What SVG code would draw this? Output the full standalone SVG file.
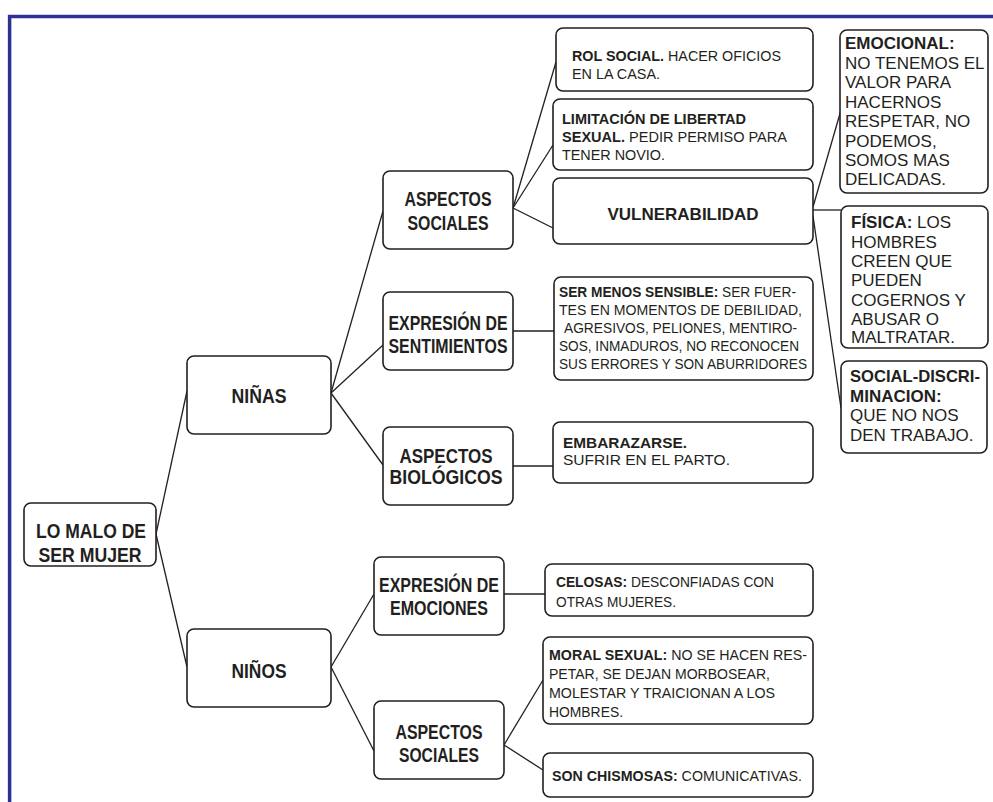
<svg xmlns="http://www.w3.org/2000/svg" width="993" height="802" viewBox="0 0 993 802">
<style>
text{font-family:"Liberation Sans",Arial,sans-serif;fill:#231f20}
.box{fill:#fff;stroke:#231f20;stroke-width:1.6}
.lab{font-size:21px;font-weight:bold;text-anchor:middle}
.mid{font-size:15px}
.sm{font-size:14px}
.rt{font-size:17px}
.b{font-weight:bold}
.con line{stroke:#231f20;stroke-width:1.3}
.frame{stroke:#2e3192;stroke-width:3.5;fill:none}
</style>
<rect width="993" height="802" fill="#fff"/>
<path class="frame" d="M9.6,802 V16.5 H993"/>
<g class="con">
<line x1="156" y1="534" x2="187" y2="391"/>
<line x1="156" y1="534" x2="187" y2="667"/>
<line x1="331" y1="393" x2="383" y2="211"/>
<line x1="331" y1="393" x2="383" y2="345"/>
<line x1="331" y1="393" x2="383" y2="465"/>
<line x1="513" y1="208" x2="556" y2="62"/>
<line x1="513" y1="208" x2="553" y2="145"/>
<line x1="513" y1="208" x2="553" y2="228"/>
<line x1="513" y1="331" x2="554" y2="331"/>
<line x1="513" y1="466" x2="553" y2="466"/>
<line x1="813" y1="207" x2="841" y2="110"/>
<line x1="813" y1="210" x2="841" y2="210"/>
<line x1="813" y1="216" x2="841" y2="408"/>
<line x1="331" y1="667" x2="374" y2="594"/>
<line x1="331" y1="667" x2="374" y2="751"/>
<line x1="504" y1="594" x2="545" y2="594"/>
<line x1="504" y1="745" x2="543" y2="680"/>
<line x1="504" y1="745" x2="543" y2="770"/>
</g>
<g id="root">
<rect class="box" x="24" y="503" width="132" height="63" rx="7"/>
<text class="lab" x="91" y="538" textLength="110" lengthAdjust="spacingAndGlyphs">LO MALO DE</text>
<text class="lab" x="90" y="562" textLength="103" lengthAdjust="spacingAndGlyphs">SER MUJER</text>
</g>
<g id="ninas">
<rect class="box" x="187" y="356" width="144" height="78" rx="7"/>
<text class="lab" x="259" y="403" textLength="55" lengthAdjust="spacingAndGlyphs">NIÑAS</text>
</g>
<g id="ninos">
<rect class="box" x="187" y="629" width="144" height="78" rx="7"/>
<text class="lab" x="259" y="678" textLength="55" lengthAdjust="spacingAndGlyphs">NIÑOS</text>
</g>
<g id="asp-soc-1">
<rect class="box" x="383" y="171" width="130" height="78" rx="7"/>
<text class="lab" x="448" y="206" textLength="87" lengthAdjust="spacingAndGlyphs">ASPECTOS</text>
<text class="lab" x="448" y="230" textLength="81" lengthAdjust="spacingAndGlyphs">SOCIALES</text>
</g>
<g id="exp-sent">
<rect class="box" x="383" y="292" width="130" height="78" rx="7"/>
<text class="lab" x="448" y="330" textLength="119" lengthAdjust="spacingAndGlyphs">EXPRESIÓN DE</text>
<text class="lab" x="448" y="353" textLength="119" lengthAdjust="spacingAndGlyphs">SENTIMIENTOS</text>
</g>
<g id="asp-bio">
<rect class="box" x="383" y="427" width="130" height="78" rx="7"/>
<text class="lab" x="446" y="463" textLength="93" lengthAdjust="spacingAndGlyphs">ASPECTOS</text>
<text class="lab" x="446" y="484" textLength="113" lengthAdjust="spacingAndGlyphs">BIOLÓGICOS</text>
</g>
<g id="exp-emo">
<rect class="box" x="374" y="557" width="130" height="78" rx="7"/>
<text class="lab" x="439" y="592" textLength="120" lengthAdjust="spacingAndGlyphs">EXPRESIÓN DE</text>
<text class="lab" x="439" y="615" textLength="98" lengthAdjust="spacingAndGlyphs">EMOCIONES</text>
</g>
<g id="asp-soc-2">
<rect class="box" x="374" y="701" width="130" height="78" rx="7"/>
<text class="lab" x="439" y="739" textLength="87" lengthAdjust="spacingAndGlyphs">ASPECTOS</text>
<text class="lab" x="439" y="762" textLength="80" lengthAdjust="spacingAndGlyphs">SOCIALES</text>
</g>
<g id="rol">
<rect class="box" x="556" y="28" width="257" height="63" rx="7"/>
<text class="mid" x="572" y="61" textLength="209" lengthAdjust="spacingAndGlyphs"><tspan class="b">ROL SOCIAL.</tspan> HACER OFICIOS</text>
<text class="mid" x="572" y="79" textLength="88" lengthAdjust="spacingAndGlyphs">EN LA CASA.</text>
</g>
<g id="limitacion">
<rect class="box" x="553" y="99" width="260" height="71" rx="7"/>
<text class="mid b" x="562" y="124" textLength="184" lengthAdjust="spacingAndGlyphs">LIMITACIÓN DE LIBERTAD</text>
<text class="mid" x="562" y="142" textLength="225" lengthAdjust="spacingAndGlyphs"><tspan class="b">SEXUAL.</tspan> PEDIR PERMISO PARA</text>
<text class="mid" x="562" y="160" textLength="103" lengthAdjust="spacingAndGlyphs">TENER NOVIO.</text>
</g>
<g id="vulnerabilidad">
<rect class="box" x="553" y="178" width="260" height="66" rx="7"/>
<text class="rt b" x="683" y="220" text-anchor="middle">VULNERABILIDAD</text>
</g>
<g id="ser-menos">
<rect class="box" x="554" y="277" width="259" height="103" rx="7"/>
<text class="sm" x="559" y="297" textLength="237" lengthAdjust="spacingAndGlyphs"><tspan class="b">SER MENOS SENSIBLE:</tspan> SER FUER-</text>
<text class="sm" x="559" y="315" textLength="243" lengthAdjust="spacingAndGlyphs">TES EN MOMENTOS DE DEBILIDAD,</text>
<text class="sm" x="564" y="333" textLength="233" lengthAdjust="spacingAndGlyphs">AGRESIVOS, PELIONES, MENTIRO-</text>
<text class="sm" x="559" y="351" textLength="240" lengthAdjust="spacingAndGlyphs">SOS, INMADUROS, NO RECONOCEN</text>
<text class="sm" x="559" y="369" textLength="248" lengthAdjust="spacingAndGlyphs">SUS ERRORES Y SON ABURRIDORES</text>
</g>
<g id="embarazarse">
<rect class="box" x="553" y="422" width="260" height="61" rx="7"/>
<text class="b" x="563" y="448" font-size="15" textLength="124" lengthAdjust="spacingAndGlyphs">EMBARAZARSE.</text>
<text x="563" y="465" font-size="15" textLength="167" lengthAdjust="spacingAndGlyphs">SUFRIR EN EL PARTO.</text>
</g>
<g id="emocional">
<rect class="box" x="840" y="30" width="148" height="163" rx="7"/>
<text class="rt b" x="845" y="49">EMOCIONAL:</text>
<text class="rt" x="845" y="68.5">NO TENEMOS EL</text>
<text class="rt" x="845" y="88">VALOR PARA</text>
<text class="rt" x="845" y="107.5">HACERNOS</text>
<text class="rt" x="845" y="127">RESPETAR, NO</text>
<text class="rt" x="845" y="146.5">PODEMOS,</text>
<text class="rt" x="845" y="166">SOMOS MAS</text>
<text class="rt" x="845" y="185">DELICADAS.</text>
</g>
<g id="fisica">
<rect class="box" x="841" y="206" width="147" height="142" rx="7"/>
<text class="rt" x="851" y="228"><tspan class="b">FÍSICA:</tspan> LOS</text>
<text class="rt" x="851" y="247.5">HOMBRES</text>
<text class="rt" x="851" y="267">CREEN QUE</text>
<text class="rt" x="851" y="286">PUEDEN</text>
<text class="rt" x="851" y="305.5">COGERNOS Y</text>
<text class="rt" x="851" y="325">ABUSAR O</text>
<text class="rt" x="851" y="343">MALTRATAR.</text>
</g>
<g id="social">
<rect class="box" x="841" y="361" width="146" height="92" rx="7"/>
<text class="rt b" x="850" y="382" textLength="130" lengthAdjust="spacingAndGlyphs">SOCIAL-DISCRI-</text>
<text class="rt b" x="850" y="402">MINACION:</text>
<text class="rt" x="850" y="421">QUE NO NOS</text>
<text class="rt" x="850" y="441">DEN TRABAJO.</text>
</g>
<g id="celosas">
<rect class="box" x="545" y="564" width="268" height="52" rx="7"/>
<text class="mid" x="556" y="587" textLength="218" lengthAdjust="spacingAndGlyphs"><tspan class="b">CELOSAS:</tspan> DESCONFIADAS CON</text>
<text class="mid" x="556" y="607" textLength="120" lengthAdjust="spacingAndGlyphs">OTRAS MUJERES.</text>
</g>
<g id="moral">
<rect class="box" x="543" y="637" width="270" height="87" rx="7"/>
<text class="mid" x="549" y="660" textLength="258" lengthAdjust="spacingAndGlyphs"><tspan class="b">MORAL SEXUAL:</tspan> NO SE HACEN RES-</text>
<text class="mid" x="549" y="679" textLength="221" lengthAdjust="spacingAndGlyphs">PETAR, SE DEJAN MORBOSEAR,</text>
<text class="mid" x="549" y="698" textLength="226" lengthAdjust="spacingAndGlyphs">MOLESTAR Y TRAICIONAN A LOS</text>
<text class="mid" x="549" y="717" textLength="74" lengthAdjust="spacingAndGlyphs">HOMBRES.</text>
</g>
<g id="chismosas">
<rect class="box" x="543" y="753" width="270" height="44" rx="7"/>
<text class="mid" x="552" y="781" textLength="250" lengthAdjust="spacingAndGlyphs"><tspan class="b">SON CHISMOSAS:</tspan> COMUNICATIVAS.</text>
</g>
</svg>
